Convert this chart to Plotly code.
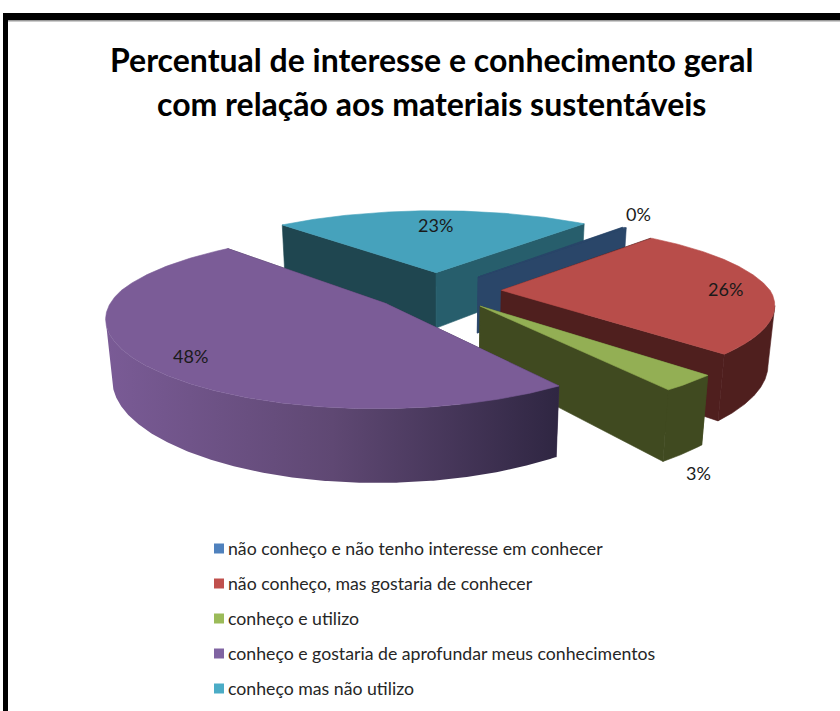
import numpy as np
import plotly.graph_objects as go

categories = [
    "não conheço e não tenho interesse em conhecer",
    "não conheço, mas gostaria de conhecer",
    "conheço e utilizo",
    "conheço e gostaria de aprofundar meus conhecimentos",
    "conheço mas não utilizo",
]
values = [0.3, 25.7, 3.0, 48.0, 23.0]
title_lines = [
    "Percentual de interesse e conhecimento geral",
    "com relação aos materiais sustentáveis",
]

# colours
legend_colors = ["#4F81BD", "#C0504D", "#9BBB59", "#8064A2", "#4BACC6"]
top_colors = ["#2A4669", "#B84D4A", "#93AF54", "#7B5C97", "#46A2BC"]
start_wall_colors = ["#2A4669", "#4F1F1E", "#404A20", "#3A2C4C", "#1F4650"]
end_wall_colors = ["#2A4669", "#4F1F1E", "#404A20", "#3A2C4C", "#275E6C"]
rim_colors = ["#2A4669", "#4F1F1E", "#404A20", None, "#275E6C"]

# view of the tilted pie, in pixels of the page
CX, CY = 437, 291
RX, RY = 269, 80
PERSP_BACK = 0.18
PERSP_FRONT = 0.15
PERSP_Y = 0.19
DEPTH = 58
DEPTH_PERSP = 0.02
EXPLODE = 0.24
START_ANGLE = 40.5
FONT = "Lato"


def project(u, v, z):
    u, v = np.asarray(u), np.asarray(v)
    sx = 1 / (1 + np.where(v > 0, PERSP_BACK, PERSP_FRONT) * v + DEPTH_PERSP * z)
    sy = 1 / (1 + PERSP_Y * v)
    return CX + RX * u * sx, CY - RY * v * sy + DEPTH * z * sy


def face(x, y, color=None, gradient=None):
    fig.add_trace(
        go.Scatter(
            x=list(x) + [x[0]],
            y=list(y) + [y[0]],
            mode="lines",
            fill="toself",
            fillcolor=color,
            fillgradient=gradient,
            line=dict(width=0.6 if color else 0, color=color),
            hoverinfo="skip",
            showlegend=False,
        )
    )


def draw_slice(i, a0, a1):
    mid = np.radians((a0 + a1) / 2)
    ou, ov = EXPLODE * np.sin(mid), EXPLODE * np.cos(mid)
    th = np.radians(np.linspace(a0, a1, 361))
    u = ou + np.sin(th)
    v = ov + np.cos(th)

    # radial walls first, the top face and the rim cover whatever faces away
    for k, color in ((0, start_wall_colors[i]), (-1, end_wall_colors[i])):
        wu, wv = np.array([ou, u[k]]), np.array([ov, v[k]])
        xt, yt = project(wu, wv, 0)
        xb, yb = project(wu, wv, 1)
        face(np.r_[xt, xb[::-1]], np.r_[yt, yb[::-1]], color)

    # outer rim, from the rightmost to the leftmost point of the arc on screen
    xt, yt = project(u, v, 0)
    k0 = int(np.argmax(xt))
    k1 = k0 + int(np.argmin(xt[k0:]))
    if k1 > k0:
        xt, yt = xt[k0:k1 + 1], yt[k0:k1 + 1]
        xb, yb = project(u[k0:k1 + 1], v[k0:k1 + 1], 1)
        if rim_colors[i]:
            face(np.r_[xt, xb[::-1]], np.r_[yt, yb[::-1]], rim_colors[i])
        else:
            shade = dict(
                type="horizontal",
                colorscale=[[0, "#7A5B96"], [0.5, "#5F4873"], [1, "#2F2642"]],
            )
            face(np.r_[xt, xb[::-1]], np.r_[yt, yb[::-1]], None, shade)

    xt, yt = project(np.r_[ou, u], np.r_[ov, v], 0)
    face(xt, yt, top_colors[i])


fig = go.Figure()

# slice angles, clockwise from twelve o'clock
angles = START_ANGLE + np.cumsum([0] + values) * 3.6
for i in [4, 0, 1, 2, 3]:  # back to front
    draw_slice(i, angles[i], angles[i + 1])

# percentage labels
label_pos = [(638, 214), (725, 289), (698, 473), (190, 356), (435, 225)]
for val, (lx, ly) in zip(values, label_pos):
    fig.add_annotation(
        x=lx, y=ly, text=f"{round(val)}%", showarrow=False,
        font=dict(family=FONT, size=18, color="#1A1A1A"),
    )

# legend rows
for i, name in enumerate(categories):
    row_y = 548.5 + 35 * i
    fig.add_trace(
        go.Scatter(
            x=[219], y=[row_y], mode="markers",
            marker=dict(symbol="square", size=10, color=legend_colors[i]),
            hoverinfo="skip", showlegend=False,
        )
    )
    fig.add_annotation(
        x=228, y=row_y, text=name, showarrow=False, xanchor="left",
        borderpad=0, borderwidth=0,
        font=dict(family=FONT, size=17.7, color="#262626"),
    )

for line, ty in zip(title_lines, [59, 103]):
    fig.add_annotation(
        x=431, y=ty, text=f"<b>{line}</b>", showarrow=False,
        font=dict(family=FONT, size=32, color="#000000"),
    )

# thick frame round the chart, runs off the right and bottom of the page
fig.add_shape(type="rect", x0=3, x1=8, y0=13, y1=711, fillcolor="#000000", line_width=0)
fig.add_shape(type="rect", x0=3, x1=840, y0=13, y1=20, fillcolor="#000000", line_width=0)
fig.add_shape(type="rect", x0=8, x1=840, y0=20, y1=21.5, fillcolor="#9A9A9A", line_width=0)

fig.update_xaxes(range=[0, 840], visible=False)
fig.update_yaxes(range=[711, 0], visible=False)
fig.update_layout(
    width=840,
    height=711,
    margin=dict(l=0, r=0, t=0, b=0),
    paper_bgcolor="#FFFFFF",
    plot_bgcolor="#FFFFFF",
    showlegend=False,
)

fig.write_html(
    "out.html",
    config={"displayModeBar": False},
    post_script="document.body.style.margin='0';",
)
